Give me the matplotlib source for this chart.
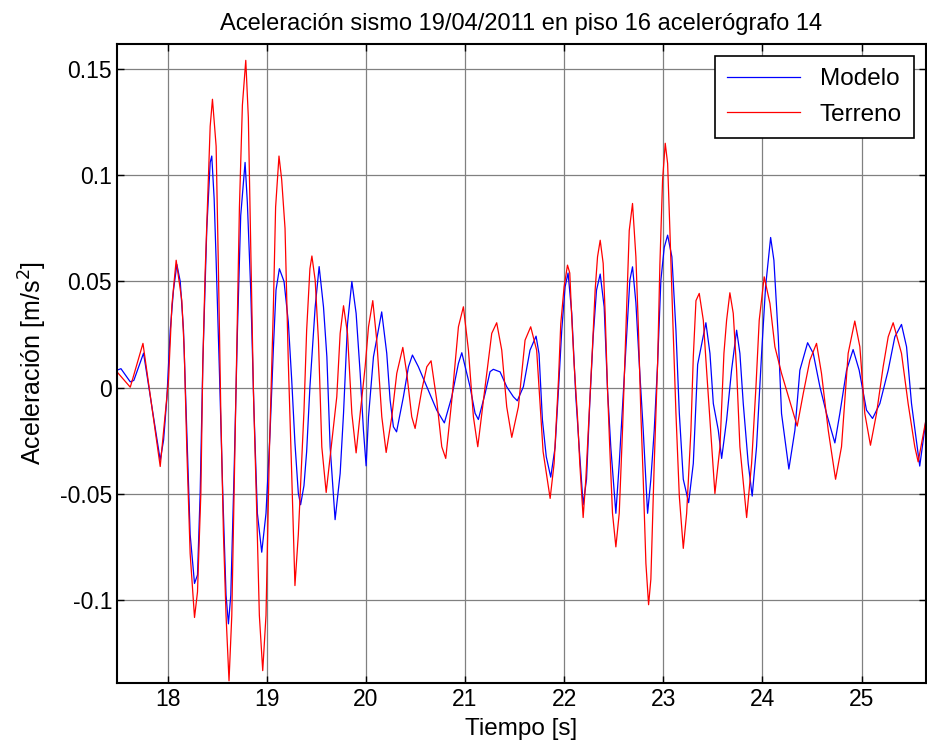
import matplotlib
matplotlib.use('Agg')
import matplotlib.pyplot as plt

plt.rcParams['font.family'] = ['Liberation Sans', 'DejaVu Sans']

# Modelo (blue)
t_modelo = [17.49, 17.53, 17.624, 17.66, 17.758, 17.926,
            17.96, 17.993, 18.027, 18.06, 18.094, 18.128, 18.161, 18.195, 18.228, 18.272,
            18.302, 18.329, 18.356, 18.396, 18.43, 18.446, 18.47, 18.49, 18.523, 18.557,
            18.59, 18.614, 18.638, 18.671, 18.705, 18.738, 18.782, 18.805, 18.839, 18.872,
            18.906, 18.95, 18.993, 19.034, 19.067, 19.094, 19.128, 19.175, 19.218, 19.252,
            19.285, 19.319, 19.342, 19.376, 19.403, 19.436,
            19.489, 19.529, 19.573, 19.607, 19.64, 19.69, 19.741, 19.775, 19.815, 19.859,
            19.902, 19.943, 19.976,
            20.003, 20.027, 20.077, 20.16, 20.211, 20.245, 20.278, 20.31, 20.379, 20.43,
            20.47, 20.53, 20.615, 20.715, 20.792, 20.867, 20.934, 20.968, 21.051, 21.102,
            21.135, 21.203, 21.253, 21.286, 21.354, 21.421, 21.488, 21.528, 21.589, 21.656,
            21.717,
            21.747, 21.781, 21.82, 21.865, 21.909, 21.943, 21.976, 22.01, 22.04, 22.077,
            22.118, 22.152, 22.192, 22.226, 22.259, 22.293, 22.327, 22.364, 22.404, 22.438,
            22.471, 22.522, 22.556, 22.589, 22.63, 22.663, 22.69, 22.724, 22.758, 22.798,
            22.842, 22.875, 22.909, 22.943, 22.976, 23.01, 23.044, 23.087, 23.128, 23.162,
            23.202, 23.256, 23.303, 23.347,
            23.43, 23.471, 23.505, 23.555, 23.589, 23.639, 23.689, 23.74, 23.773, 23.807,
            23.857, 23.897, 23.941, 23.992, 24.032, 24.083, 24.116, 24.16, 24.193, 24.267,
            24.328, 24.378, 24.456, 24.513, 24.58, 24.647, 24.731, 24.781, 24.849, 24.915,
            24.976, 25.05, 25.111, 25.185, 25.269, 25.336, 25.403, 25.454, 25.504, 25.587,
            25.65]
a_modelo = [0.0083, 0.0090, 0.0028, 0.0035, 0.0163, -0.034,
            -0.0246, -0.005, 0.027, 0.046, 0.058, 0.050, 0.027, -0.021, -0.069, -0.092,
            -0.088, -0.0495, 0.012, 0.075, 0.106, 0.109, 0.089, 0.060, 0.008, -0.0495,
            -0.0975, -0.111, -0.0975, -0.040, 0.027, 0.081, 0.106, 0.087, 0.046, -0.011,
            -0.059, -0.0773, -0.059, -0.021, 0.018, 0.046, 0.056, 0.050, 0.031, 0.004,
            -0.026, -0.0495, -0.055, -0.046, -0.030, 0.0004,
            0.038, 0.057, 0.038, 0.0146, -0.0278, -0.062, -0.0403, -0.012, 0.030, 0.050,
            0.035, 0.0068, -0.020,
            -0.0367, -0.0136, 0.0146, 0.0357, 0.0162, -0.0058, -0.0183, -0.0207, -0.0042, 0.0099,
            0.0154, 0.0099, 0.0005, -0.0105, -0.0165, -0.0042, 0.0115, 0.0165, 0.0005, -0.012,
            -0.0149, -0.0027, 0.0076, 0.0087, 0.0075, 0.0005, -0.0042, -0.0061, 0.0005, 0.0177,
            0.0243,
            0.016, -0.015, -0.0324, -0.042, -0.028, -0.001, 0.027, 0.0475, 0.054, 0.035,
            -0.004, -0.028, -0.055, -0.043, -0.007, 0.024, 0.046, 0.0535, 0.038, -0.001,
            -0.028, -0.059, -0.0356, -0.009, 0.024, 0.0506, 0.0569, 0.040, 0.0114, -0.020,
            -0.059, -0.043, -0.020, 0.0114, 0.0506, 0.066, 0.0718, 0.0616, 0.027, -0.012,
            -0.043, -0.054, -0.0356, 0.011,
            0.0306, 0.0162, -0.0074, -0.0199, -0.0332, -0.0152, 0.0083, 0.0271, 0.0162, -0.0074,
            -0.0356, -0.0509, -0.0277, 0.0162, 0.0475, 0.0707, 0.060, 0.024, -0.0121, -0.0382,
            -0.0199, 0.0083, 0.0212, 0.0162, 0.0005, -0.0121, -0.0259, -0.0121, 0.0083, 0.018,
            0.0083, -0.0105, -0.0144, -0.0074, 0.0083, 0.024, 0.0298, 0.0193, -0.0074, -0.0368,
            -0.015]

# Terreno (red)
t_terreno = [17.49, 17.624, 17.752, 17.926,
             18.01, 18.044, 18.087, 18.144, 18.168, 18.195, 18.228, 18.272, 18.302, 18.336,
             18.356, 18.379, 18.43, 18.453, 18.49, 18.513, 18.537, 18.564, 18.59, 18.62,
             18.648, 18.671, 18.698, 18.725, 18.755, 18.789, 18.815, 18.839, 18.866, 18.9,
             18.926, 18.96, 18.993, 19.027, 19.067, 19.09, 19.124, 19.151, 19.185, 19.218,
             19.252, 19.285, 19.319, 19.376, 19.403, 19.436, 19.456,
             19.489, 19.522, 19.556, 19.6, 19.64, 19.707, 19.741, 19.775, 19.815, 19.859,
             19.902, 19.943, 19.993, 20.027,
             20.07, 20.11, 20.161, 20.205, 20.262, 20.312, 20.373, 20.413, 20.463,
             20.497, 20.564, 20.615, 20.658, 20.715, 20.766, 20.806, 20.867, 20.934, 20.984,
             21.035, 21.085, 21.129, 21.203, 21.27, 21.32, 21.371, 21.421, 21.472, 21.539,
             21.606, 21.663, 21.723, 21.788,
             21.859, 21.899, 21.943, 21.966, 22.0, 22.034, 22.057, 22.077, 22.101, 22.135,
             22.158, 22.192, 22.219, 22.253, 22.286, 22.313, 22.337, 22.364, 22.394, 22.414,
             22.438, 22.46, 22.488, 22.522, 22.556, 22.589, 22.623, 22.657, 22.69, 22.724,
             22.75, 22.774, 22.798, 22.825, 22.852, 22.875, 22.909, 22.943, 22.966, 22.993,
             23.02, 23.044, 23.067, 23.094, 23.128, 23.162, 23.202, 23.236, 23.279, 23.303,
             23.33,
             23.363, 23.404, 23.437, 23.471, 23.521, 23.572, 23.612, 23.639, 23.672, 23.706,
             23.74, 23.773, 23.841, 23.891, 23.935, 23.968, 24.018, 24.076, 24.126, 24.193,
             24.294, 24.351, 24.412, 24.479, 24.546, 24.596, 24.664, 24.738, 24.798, 24.865,
             24.932, 24.983, 25.033, 25.09, 25.151, 25.218, 25.269, 25.319, 25.403, 25.47,
             25.537, 25.571, 25.65]
a_terreno = [0.0075, 0.0003, 0.0209, -0.037,
             0.004, 0.039, 0.060, 0.041, 0.018, -0.030, -0.078, -0.108, -0.096, -0.0495,
             0.012, 0.054, 0.123, 0.1357, 0.1136, 0.056, -0.011, -0.069, -0.107, -0.1378,
             -0.107, -0.0495, 0.0196, 0.085, 0.133, 0.154, 0.127, 0.066, -0.0015, -0.059,
             -0.107, -0.133, -0.107, -0.030, 0.037, 0.085, 0.109, 0.098, 0.075, 0.012,
             -0.040, -0.093, -0.069, -0.011, 0.027, 0.056, 0.062,
             0.0506, 0.0224, -0.0278, -0.0492, -0.0325, -0.0042, 0.0256, 0.0386, 0.0256, -0.0121,
             -0.0306, -0.0121, 0.0099, 0.0287,
             0.041, 0.0224, -0.0136, -0.0304, -0.0136, 0.0068, 0.019, 0.0068, -0.0136,
             -0.0191, -0.0011, 0.0099, 0.0127, -0.0058, -0.0277, -0.0332, -0.0058, 0.0287, 0.0381,
             0.0177, -0.0136, -0.0277, 0.0005, 0.0256, 0.0306, 0.0177, -0.0089, -0.0233, -0.0089,
             0.0224, 0.0287, 0.0177, -0.030,
             -0.052, -0.0356, 0.0036, 0.030, 0.0475, 0.0577, 0.054, 0.033, 0.011, -0.0136,
             -0.0356, -0.061, -0.043, -0.012, 0.019, 0.046, 0.0616, 0.0694, 0.0585, 0.035,
             -0.001, -0.0277, -0.059, -0.0748, -0.059, -0.020, 0.027, 0.074, 0.0867, 0.0616,
             0.027, -0.012, -0.043, -0.0826, -0.102, -0.090, -0.0356, 0.0114, 0.058, 0.0976,
             0.115, 0.1055, 0.074, 0.035, -0.012, -0.051, -0.0755, -0.059, -0.020, 0.0146,
             0.041,
             0.0444, 0.0318, 0.0083, -0.015, -0.0497, -0.0277, 0.0162, 0.0318, 0.0447, 0.035,
             0.0083, -0.0277, -0.061, -0.0356, 0.0005, 0.0318, 0.0522, 0.0397, 0.0193, 0.0068,
             -0.009, -0.018, -0.0027, 0.013, 0.0209, 0.0068, -0.0199, -0.043, -0.0277, 0.0162,
             0.0314, 0.0193, -0.0121, -0.027, -0.0121, 0.0099, 0.024, 0.0306, 0.0162, -0.0074,
             -0.0277, -0.0348, -0.015]

xticks = [18, 19, 20, 21, 22, 23, 24, 25]
yticks = [-0.1, -0.05, 0, 0.05, 0.1, 0.15]
ytick_labels = ['-0.1', '-0.05', '0', '0.05', '0.1', '0.15']

fig = plt.figure(figsize=(9.27, 7.53), dpi=100)
ax = fig.add_axes([0.1262, 0.093, 0.8727, 0.8486])

ax.plot(t_modelo, a_modelo, color='#0000ff', lw=0.9, label='Modelo')
ax.plot(t_terreno, a_terreno, color='#ff0000', lw=0.9, label='Terreno')

ax.set_xlim(17.49, 25.65)
ax.set_ylim(-0.1388, 0.1617)
ax.set_xticks(xticks)
ax.set_xticklabels([str(v) for v in xticks])
ax.set_yticks(yticks)
ax.set_yticklabels(ytick_labels)
ax.tick_params(direction='in', top=True, right=True, labelsize=16.5, length=5, width=1)
ax.grid(True, color='#808080', lw=0.9)
for s in ax.spines.values():
    s.set_linewidth(1.5)

ax.set_title('Aceleración sismo 19/04/2011 en piso 16 acelerógrafo 14', fontsize=17, pad=10)
ax.set_xlabel('Tiempo [s]', fontsize=17.5, labelpad=5)
ax.set_ylabel('Aceleración [m/s$^2$]', fontsize=18, labelpad=8)

leg = ax.legend(loc='upper right', fontsize=17.5, fancybox=False, framealpha=1,
                edgecolor='black', handlelength=3.0, borderaxespad=0.5,
                borderpad=0.5, labelspacing=0.55)
leg.get_frame().set_linewidth(1.2)

fig.savefig('out.png', dpi=100)
